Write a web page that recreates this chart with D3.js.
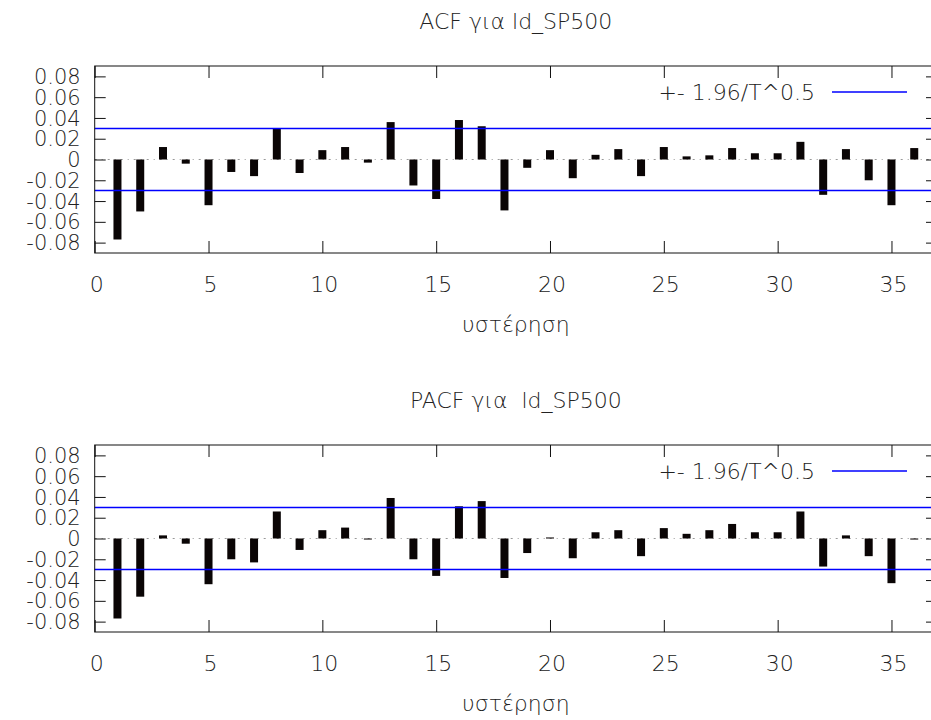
<!DOCTYPE html>
<html>
<head>
<meta charset="utf-8">
<script src="https://cdn.jsdelivr.net/npm/d3@7"></script>
<style>
  body { margin: 0; background: #fff; }
  svg text { font-family: "DejaVu Sans", sans-serif; font-weight: 200; fill: #222; }
</style>
</head>
<body>
<div id="chart"></div>
<script>
const lags = d3.range(1, 37);
const acf = [-0.077, -0.050, 0.012, -0.004, -0.044, -0.012, -0.016, 0.030, -0.013, 0.009,
  0.012, -0.003, 0.036, -0.025, -0.038, 0.038, 0.032, -0.049, -0.008, 0.009,
  -0.018, 0.0045, 0.010, -0.016, 0.012, 0.003, 0.004, 0.011, 0.006, 0.006,
  0.017, -0.034, 0.010, -0.020, -0.044, 0.011];
const pacf = [-0.077, -0.056, 0.003, -0.005, -0.044, -0.020, -0.023, 0.026, -0.011, 0.008,
  0.0105, -0.001, 0.039, -0.020, -0.036, 0.031, 0.036, -0.038, -0.014, 0.001,
  -0.019, 0.006, 0.008, -0.017, 0.010, 0.0045, 0.008, 0.014, 0.006, 0.006,
  0.026, -0.027, 0.003, -0.017, -0.043, -0.001];
const band = 0.0299; // 1.96/sqrt(T)
const xTicks = [0, 5, 10, 15, 20, 25, 30, 35];
const yTicks = [-0.08, -0.06, -0.04, -0.02, 0, 0.02, 0.04, 0.06, 0.08];
const titles = ['ACF για ld_SP500', 'PACF για  ld_SP500'];
const xLabel = 'υστέρηση';
const legendLabel = '+- 1.96/T^0.5';

const width = 931, height = 720;
const svg = d3.select('#chart').append('svg')
  .attr('width', width)
  .attr('height', height);

function drawPanel(values, title, top) {
  const left = 94.7, right = 937;
  const plotTop = top, plotBottom = top + 187;

  const x = d3.scaleLinear().domain([0, 37]).range([left, right]);
  const y = d3.scaleLinear().domain([-0.09, 0.09]).range([plotBottom, plotTop]);

  const g = svg.append('g');

  // title
  g.append('text')
    .attr('x', (left + right) / 2)
    .attr('y', top - 37)
    .attr('text-anchor', 'middle')
    .style('font-size', '22px')
    .style('white-space', 'pre')
    .text(title);

  // zero line
  g.append('line')
    .attr('x1', left).attr('x2', right)
    .attr('y1', y(0)).attr('y2', y(0))
    .attr('stroke', '#999')
    .attr('stroke-dasharray', '2,5,1,5');

  // bars
  const barW = 8;
  g.append('g').selectAll('rect')
    .data(values)
    .join('rect')
      .attr('x', (d, i) => x(lags[i]) - barW / 2)
      .attr('y', d => y(Math.max(d, 0)))
      .attr('width', barW)
      .attr('height', d => Math.max(1, Math.abs(y(d) - y(0))))
      .attr('fill', '#0a0505');

  // confidence band
  g.append('g').selectAll('line')
    .data([band, -band])
    .join('line')
      .attr('x1', left).attr('x2', right)
      .attr('y1', d => y(d)).attr('y2', d => y(d))
      .attr('stroke', '#0000ff')
      .attr('stroke-width', 1.5);

  // frame
  g.append('rect')
    .attr('x', left).attr('y', plotTop)
    .attr('width', right - left).attr('height', plotBottom - plotTop)
    .attr('fill', 'none')
    .attr('stroke', '#111');

  // y axis (ticks inward, mirrored)
  g.append('g')
    .attr('transform', `translate(${left},0)`)
    .call(d3.axisRight(y).tickValues(yTicks).tickSize(11).tickFormat(''))
    .call(a => a.select('.domain').remove());
  g.append('g')
    .attr('transform', `translate(${right},0)`)
    .call(d3.axisLeft(y).tickValues(yTicks).tickSize(11).tickFormat(''))
    .call(a => a.select('.domain').remove());
  g.append('g').selectAll('text')
    .data(yTicks)
    .join('text')
      .attr('x', left - 14)
      .attr('y', d => y(d))
      .attr('dy', '0.36em')
      .attr('text-anchor', 'end')
      .style('font-size', '21px')
      .text(d => d === 0 ? '0' : d3.format('.2f')(d).replace('−', '-'));

  // x axis (ticks inward, mirrored)
  g.append('g')
    .attr('transform', `translate(0,${plotBottom})`)
    .call(d3.axisTop(x).tickValues(xTicks).tickSize(12).tickFormat(''))
    .call(a => a.select('.domain').remove());
  g.append('g')
    .attr('transform', `translate(0,${plotTop})`)
    .call(d3.axisBottom(x).tickValues(xTicks).tickSize(12).tickFormat(''))
    .call(a => a.select('.domain').remove());
  g.append('g').selectAll('text')
    .data(xTicks)
    .join('text')
      .attr('x', d => x(d) + 2)
      .attr('y', plotBottom + 39)
      .attr('text-anchor', 'middle')
      .style('font-size', '22px')
      .text(d => d);

  g.selectAll('.tick line').attr('stroke', '#111');

  g.append('text')
    .attr('x', (left + right) / 2)
    .attr('y', plotBottom + 79)
    .attr('text-anchor', 'middle')
    .style('font-size', '22px')
    .text(xLabel);

  // legend
  const ly = plotTop + 26;
  g.append('text')
    .attr('x', 815)
    .attr('y', ly)
    .attr('dy', '0.36em')
    .attr('text-anchor', 'end')
    .style('font-size', '22px')
    .text(legendLabel);
  g.append('line')
    .attr('x1', 832).attr('x2', 907)
    .attr('y1', ly).attr('y2', ly)
    .attr('stroke', '#0000ff')
    .attr('stroke-width', 1.5);
}

drawPanel(acf, titles[0], 66);
drawPanel(pacf, titles[1], 445);
</script>
</body>
</html>
